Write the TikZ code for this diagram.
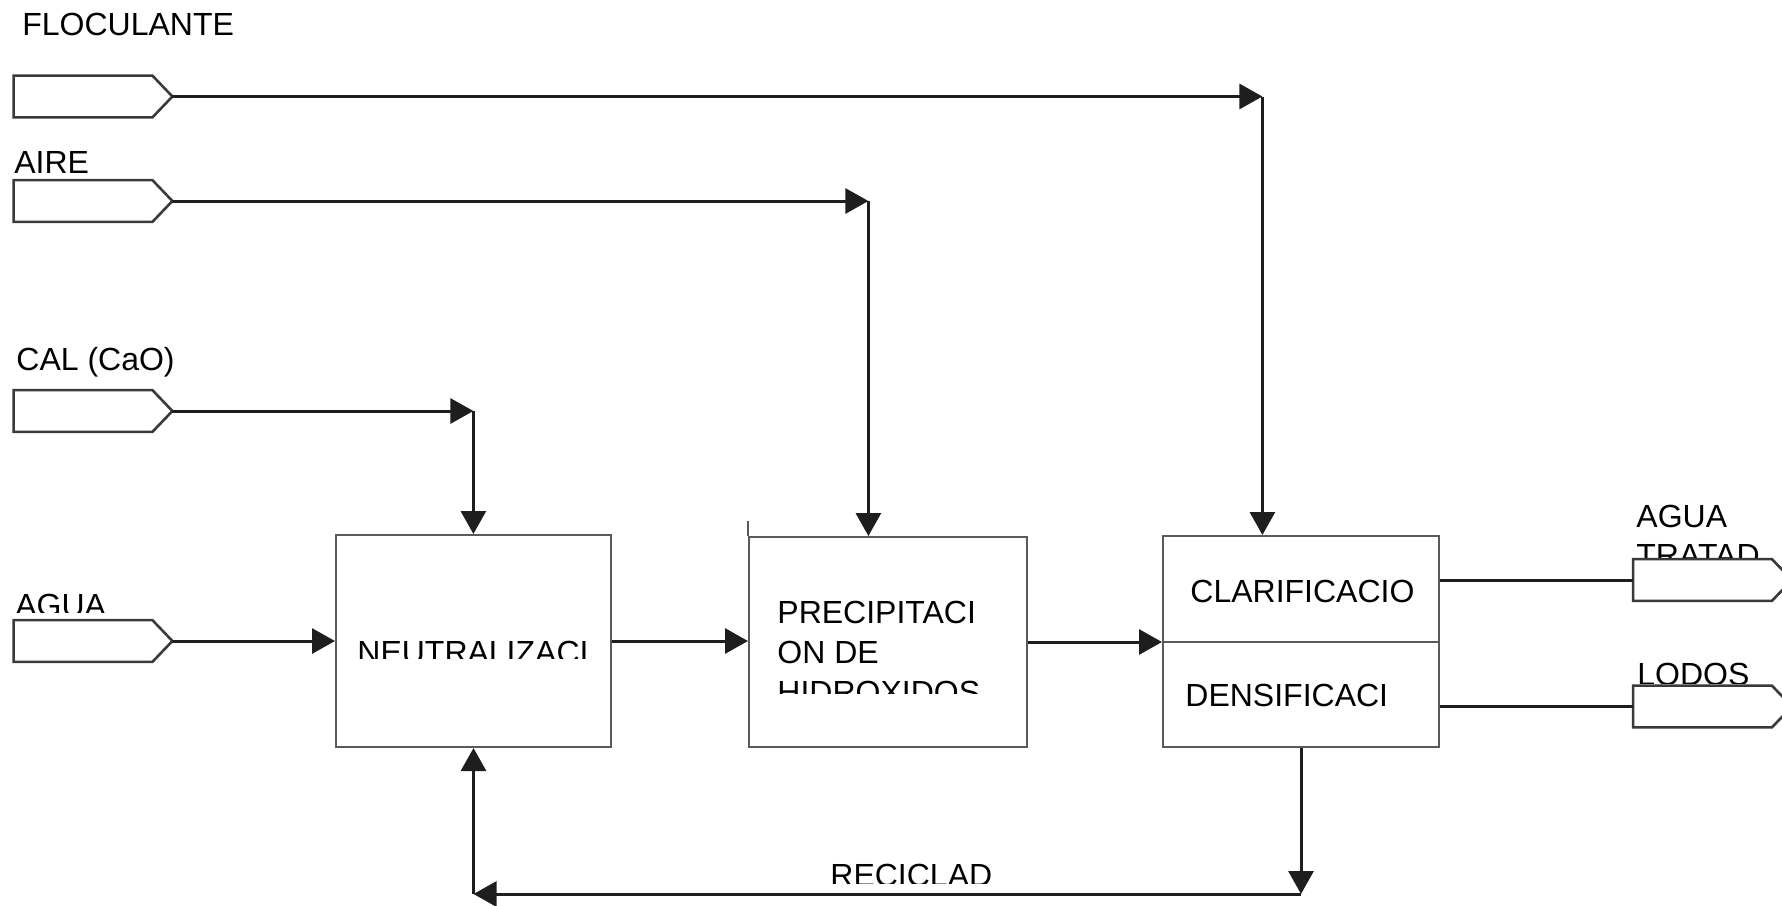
\documentclass[tikz,border=0pt]{standalone}
\usepackage{fontspec}
\setmainfont{Liberation Sans}
\usetikzlibrary{arrows.meta,calc}
\definecolor{ink}{HTML}{1E1E1E}
\definecolor{boxc}{HTML}{5A5A5A}
\definecolor{tagc}{HTML}{3A3A3A}
\begin{document}
\begin{tikzpicture}[x=0.5pt,y=-0.5pt,
  conn/.style={draw=ink, line width=1.5pt, -{Triangle[length=11.5pt,width=12.5pt]}},
  plainline/.style={draw=ink, line width=1.5pt},
  procbox/.style={draw=boxc, line width=1pt, inner sep=0pt},
  tagbody/.style={draw=none, inner sep=0pt, minimum width=69pt, minimum height=20.5pt},
  tagline/.style={draw=tagc, line width=1.3pt, fill=white},
  lbl/.style={inner sep=0pt, anchor=base west, font=\fontsize{16}{20}\selectfont, text=black}]
\useasboundingbox (0,0) rectangle (1782,905);

% ---------- text labels ----------
\node[lbl] (tFloc) at (22,35) {FLOCULANTE};
\node[lbl] (tAire) at (14,173) {AIRE};
\node[lbl] (tCal) at (16,370) {CAL (CaO)};
\begin{scope}
  \clip (0,580) rectangle (300,612);
  \node[lbl] (tAgua) at (15,616) {AGUA};
\end{scope}
\begin{scope}
  \clip (1600,480) rectangle (1782,560);
  \node[lbl] (tAguaT) at (1636,527) {AGUA};
  \node[lbl] (tTrat) at (1636,566) {TRATAD};
\end{scope}
\begin{scope}
  \clip (1600,650) rectangle (1782,683);
  \node[lbl] (tLodos) at (1637,685) {LODOS};
\end{scope}
\begin{scope}
  \clip (800,850) rectangle (1050,883);
  \node[lbl] (tRec) at (830,886) {RECICLAD};
\end{scope}

% ---------- process boxes ----------
\node[procbox, minimum width=137.5pt, minimum height=106pt] (neu) at (473.5,641) {};
\node[procbox, minimum width=139pt, minimum height=105pt] (pre) at (888,642) {};
\node[procbox, minimum width=138pt, minimum height=105.5pt] (cla) at (1301,641.5) {};
\draw[draw=boxc, line width=1pt] (cla.west) -- (cla.east);
\draw[draw=boxc, line width=1pt] (pre.north west) -- ++(0,-15);

\begin{scope}
  \clip (340,620) rectangle (606,658);
  \node[lbl] (tNeu) at (357,663) {NEUTRALIZACI};
\end{scope}
\node[lbl] (tPre1) at (777,623) {PRECIPITACI};
\node[lbl] (tPre2) at (777,663) {ON DE};
\begin{scope}
  \clip (760,670) rectangle (1020,693);
  \node[lbl] (tPre3) at (777,703) {HIDROXIDOS};
\end{scope}
\node[lbl] (tCla) at (1190,602) {CLARIFICACIO};
\node[lbl] (tDen) at (1185,706) {DENSIFICACI};

% ---------- input / output tags ----------
\foreach \nm/\cx/\cy in {floc/83/96.5, aire/83/201, cal/83/411, agua/83/641, outA/1702.5/580, outL/1702.5/706.5}{
  \node[tagbody] (\nm) at (\cx,\cy) {};
  \coordinate (\nm T) at ($(\nm.east)+(10pt,0)$);
  \draw[tagline] (\nm.north west) -- (\nm.north east) -- (\nm T) -- (\nm.south east) -- (\nm.south west) -- cycle;
}

% ---------- connectors ----------
\coordinate (cF) at ($(flocT)+(545pt,0)$);
\draw[conn] (flocT) -- (cF);
\draw[conn] (cF) -- (cF |- cla.north);

\coordinate (cA) at ($(aireT)+(348pt,0)$);
\draw[conn] (aireT) -- (cA);
\draw[conn] (cA) -- (cA |- pre.north);

\coordinate (cC) at ($(calT)+(150.5pt,0)$);
\draw[conn] (calT) -- (cC);
\draw[conn] (cC) -- (cC |- neu.north);

\draw[conn] (aguaT) -- (aguaT -| neu.west);
\draw[conn] (neu.east) -- (neu.east -| pre.west);
\draw[conn] (pre.east) -- (pre.east -| cla.west);

\draw[plainline] (outA.west -| cla.east) -- (outA.west);
\draw[plainline] (outL.west -| cla.east) -- (outL.west);

\coordinate (rR) at ($(cla.south)+(0,-73pt)$);
\coordinate (rL) at (rR -| neu.south);
\draw[conn] (cla.south) -- (rR);
\draw[conn] (rR) -- (rL);
\draw[conn] (rL) -- (neu.south);
\end{tikzpicture}
\end{document}
